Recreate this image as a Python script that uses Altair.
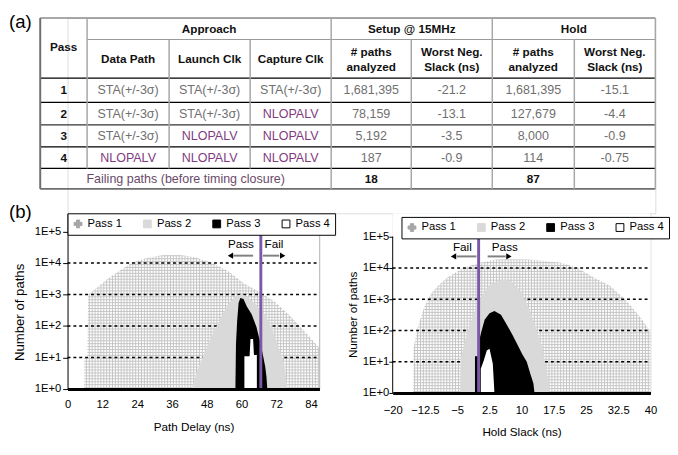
import altair as alt
import numpy as np
import pandas as pd

FONT = "Liberation Sans"

# ---------------- (a) table values ----------------
PASS_IDS = ["1", "2", "3", "4"]
DATA_PATH = ["STA(+/-3σ)", "STA(+/-3σ)", "STA(+/-3σ)", "NLOPALV"]
LAUNCH_CLK = ["STA(+/-3σ)", "STA(+/-3σ)", "NLOPALV", "NLOPALV"]
CAPTURE_CLK = ["STA(+/-3σ)", "NLOPALV", "NLOPALV", "NLOPALV"]
SETUP_PATHS = ["1,681,395", "78,159", "5,192", "187"]
SETUP_WNS = ["-21.2", "-13.1", "-3.5", "-0.9"]
HOLD_PATHS = ["1,681,395", "127,679", "8,000", "114"]
HOLD_WNS = ["-15.1", "-4.4", "-0.9", "-0.75"]
FAILING_LABEL = "Failing paths (before timing closure)"
FAILING_SETUP = "18"
FAILING_HOLD = "87"

# ---------------- (b) histogram values ----------------
SERIES = ["Pass 1", "Pass 2", "Pass 3", "Pass 4"]

# Setup: path delay (ns) vs number of paths
SETUP_P1_X = [5.7, 5.7, 6.8, 7.1, 10, 14, 17, 22, 27, 33, 39, 44, 50, 55.7, 61, 66.9, 71.4, 77, 82.6, 86.9]
SETUP_P1_Y = [1, 10, 10, 1000, 1600, 3200, 5000, 10000, 14000, 17800, 17800, 15000, 10000, 5200, 2200, 1100, 600, 200, 56, 20]
SETUP_P2_X = [42.8, 44.4, 46.7, 48.9, 51.2, 53.4, 55.7, 57.9, 59.6, 61.8, 64.6, 68.0, 70.3, 72.5, 74.7, 75.9]
SETUP_P2_Y = [1, 3.2, 11, 31, 90, 230, 540, 850, 1000, 850, 540, 230, 90, 25, 6.6, 1]
SETUP_P3_X = [57.9, 58.1, 58.5, 59.0, 59.6, 60.7, 61.8, 63.5, 65.2, 66.0, 66.6, 67.5, 68.2, 68.6, 68.9]
SETUP_P3_Y = [1, 28, 145, 540, 770, 720, 420, 235, 91, 45, 28, 10.7, 5, 2.5, 1]
SETUP_P4_X = [61.0, 61.0, 62.8, 63.1, 64.0, 64.3, 65.3, 65.3]
SETUP_P4_Y = [1, 11, 11, 39, 39, 12, 12, 1]
SETUP_LIMIT = 66.67  # 15 MHz period

# Hold: hold slack (ns) vs number of paths
HOLD_P1_X = [-15.2, -15.2, -14.1, -12.6, -11.1, -9.2, -7.3, -3.5, 0.3, 4.1, 7.8, 11.6, 15.4, 19.2, 23.0, 26.8, 30.5, 34.3, 38.1, 39.6, 40]
HOLD_P1_Y = [1, 25, 140, 580, 1500, 2900, 5000, 10200, 14800, 18600, 19000, 18600, 16600, 14800, 10200, 5000, 2750, 930, 220, 107, 100]
HOLD_P2_X = [-4.3, -4.1, -3.5, -2.75, -2.0, -1.25, 0.27, 2.54, 4.8, 5.95, 7.8, 10.1, 11.6, 13.1, 14.6, 15.4, 16.2, 16.4]
HOLD_P2_Y = [1, 14, 29, 76, 155, 316, 1050, 2750, 3900, 4200, 3600, 1500, 575, 155, 36, 11, 2.6, 1]
HOLD_P3_X = [-0.85, -0.85, -0.1, 0.3, 0.66, 1.4, 2.54, 3.68, 5.2, 6.33, 7.8, 9.35, 10.1, 11.2, 12.0, 12.76, 13.0]
HOLD_P3_Y = [1, 15, 15, 60, 95, 220, 355, 420, 316, 174, 76, 29, 18, 10, 4.3, 2, 1]
HOLD_P4_X = [0.5, 0.5, 1.2, 1.9, 2.54, 3.3, 3.68]
HOLD_P4_Y = [1, 6, 11, 23, 26, 8.6, 1]
HOLD_LIMIT = 0.0

GRID_LEVELS = [10, 100, 1000, 10000]
Y_TICKS = [1, 10, 100, 1000, 10000, 100000]
SETUP_X_TICKS = [0, 12, 24, 36, 48, 60, 72, 84]
HOLD_X_TICKS = [-20, -12.5, -5, 2.5, 10, 17.5, 25, 32.5, 40]

# ---------------- styles ----------------
HATCH = "#c4c4c4"
P2_COLOR = "#d9d9d9"
PURPLE = "#7a5aa8"
STA_C = "#6f6f6f"
NLO_C = "#7f3b7f"
NUM_C = "#6f6f6f"

# ---------------- table layout ----------------
COL_EDGES = [0, 48, 132, 215, 298, 380, 463, 547, 630]
ROW_EDGES = [0, 22, 61.5, 86.5, 109.5, 132, 154, 175]


def cc(i):
    return (COL_EDGES[i] + COL_EDGES[i + 1]) / 2


def span(i, j):
    return (COL_EDGES[i] + COL_EDGES[j]) / 2


ROW_C = [(ROW_EDGES[k] + ROW_EDGES[k + 1]) / 2 for k in range(2, 7)]

bold = [
    ("Pass", cc(0), 30, "#111111"),
    ("Approach", span(1, 4), 11, "#111111"),
    ("Setup @ 15MHz", span(4, 6), 11, "#111111"),
    ("Hold", span(6, 8), 11, "#111111"),
    ("Data Path", cc(1), 41.7, "#111111"),
    ("Launch Clk", cc(2), 41.7, "#111111"),
    ("Capture Clk", cc(3), 41.7, "#111111"),
    ("# paths", cc(4), 35.3, "#111111"),
    ("analyzed", cc(4), 50.3, "#111111"),
    ("Worst Neg.", cc(5), 35.3, "#111111"),
    ("Slack (ns)", cc(5), 50.3, "#111111"),
    ("# paths", cc(6), 35.3, "#111111"),
    ("analyzed", cc(6), 50.3, "#111111"),
    ("Worst Neg.", cc(7), 35.3, "#111111"),
    ("Slack (ns)", cc(7), 50.3, "#111111"),
    (FAILING_SETUP, cc(4), ROW_C[4], "#111111"),
    (FAILING_HOLD, cc(6), ROW_C[4], "#111111"),
]
for k, p in enumerate(PASS_IDS):
    bold.append((p, cc(0), ROW_C[k], "#111111"))

normal = [(FAILING_LABEL, span(0, 4), ROW_C[4], "#6a4a6a")]
for k in range(4):
    for col, vals in ((1, DATA_PATH), (2, LAUNCH_CLK), (3, CAPTURE_CLK)):
        s = vals[k]
        normal.append((s, cc(col), ROW_C[k], NLO_C if s == "NLOPALV" else STA_C))
    for col, vals in ((4, SETUP_PATHS), (5, SETUP_WNS), (6, HOLD_PATHS), (7, HOLD_WNS)):
        normal.append((vals[k], cc(col), ROW_C[k], NUM_C))

bold_df = pd.DataFrame(bold, columns=["t", "x", "y", "c"])
norm_df = pd.DataFrame(normal, columns=["t", "x", "y", "c"])

lines = []
h_specs = [
    (ROW_EDGES[0], 0, 630, "#8c8c8c", 1.5),
    (ROW_EDGES[1], 48, 630, "#9a9a9a", 1.2),
    (ROW_EDGES[2], 0, 630, "#000000", 1.4),
    (ROW_EDGES[3], 0, 630, "#000000", 1.3),
    (ROW_EDGES[4], 0, 630, "#333333", 1.3),
    (ROW_EDGES[5], 0, 630, "#000000", 1.3),
    (ROW_EDGES[6], 0, 630, "#000000", 1.3),
    (ROW_EDGES[7], 0, 630, "#6e6e6e", 2.0),
]
for y, a, b, c, w in h_specs:
    lines.append(dict(x=a, x2=b, y=y, y2=y, c=c, w=w))
v_specs = [
    (0, ROW_EDGES[0], ROW_EDGES[7], "#6e6e6e", 2.0),
    (48, ROW_EDGES[0], ROW_EDGES[6], "#a6a6a6", 1.5),
    (132, ROW_EDGES[1], ROW_EDGES[6], "#a6a6a6", 1.5),
    (215, ROW_EDGES[1], ROW_EDGES[6], "#a6a6a6", 1.5),
    (298, ROW_EDGES[0], ROW_EDGES[7], "#a6a6a6", 1.5),
    (380, ROW_EDGES[1], ROW_EDGES[7], "#a6a6a6", 1.5),
    (463, ROW_EDGES[0], ROW_EDGES[7], "#a6a6a6", 1.5),
    (547, ROW_EDGES[1], ROW_EDGES[7], "#a6a6a6", 1.5),
    (630, ROW_EDGES[0], ROW_EDGES[7], "#a6a6a6", 1.5),
]
for x, a, b, c, w in v_specs:
    lines.append(dict(x=x, x2=x, y=a, y2=b, c=c, w=w))
lines_df = pd.DataFrame(lines)

TX = alt.X("x:Q", scale=alt.Scale(domain=[28, 630], nice=False, zero=False), axis=None)
TY = alt.Y("y:Q", scale=alt.Scale(domain=[0, 200], nice=False, zero=False, reverse=True), axis=None)

t_lines = alt.Chart(lines_df).mark_rule().encode(
    x=TX, x2="x2:Q", y=TY, y2="y2:Q",
    color=alt.Color("c:N", scale=None),
    strokeWidth=alt.StrokeWidth("w:Q", scale=None),
)
t_bold = alt.Chart(bold_df).mark_text(font=FONT, fontSize=12, fontWeight="bold").encode(
    x=TX, y=TY, text="t:N", color=alt.Color("c:N", scale=None))
t_norm = alt.Chart(norm_df).mark_text(font=FONT, fontSize=12.8).encode(
    x=TX, y=TY, text="t:N", color=alt.Color("c:N", scale=None))
labels_df = pd.DataFrame({"t": ["(a)", "(b)"], "x": [-32, -32], "y": [4.5, 199]})
t_labels = alt.Chart(labels_df).mark_text(font=FONT, fontSize=19, align="left", color="black").encode(
    x=TX, y=TY, text="t:N")

table = alt.layer(t_lines, t_norm, t_bold, t_labels).properties(width=602, height=200)


# ---------------- histogram panels ----------------
def df_xy(xs, ys, base):
    return pd.DataFrame({"x": xs, "y": ys, "b": base})


def panel(x_dom, y_top, width, height, decade_px, hatch_dx, p1, p2, p3, p4,
          limit, limit_top, x_axis, y_axis, leg_x, leg_y, notes, note_y,
          shafts, heads, arrow_y, frame):
    X = alt.X("x:Q", scale=alt.Scale(domain=x_dom, nice=False, zero=False), axis=x_axis)
    Y = alt.Y("y:Q", scale=alt.Scale(type="log", domain=[1, y_top], nice=False), axis=y_axis)

    # hatch texture for Pass 1 (grid of thin rules, masked above the Pass 1 curve)
    vx = np.arange(x_dom[0] + hatch_dx / 2, x_dom[1], hatch_dx)
    hatch_v = pd.DataFrame({"x": vx, "y": 1.0, "y2": y_top})
    dy = 3.0 / decade_px
    hy = 10 ** np.arange(dy / 2, np.log10(y_top), dy)
    hatch_h = pd.DataFrame({"y": hy, "x": x_dom[0], "x2": x_dom[1]})
    l_hv = alt.Chart(hatch_v).mark_rule(color=HATCH, strokeWidth=1).encode(x=X, y=Y, y2="y2:Q")
    l_hh = alt.Chart(hatch_h).mark_rule(color=HATCH, strokeWidth=1).encode(y=Y, x=X, x2="x2:Q")

    mx = [x_dom[0]] + list(p1[0])
    my = [1] + list(p1[1])
    if p1[0][-1] < x_dom[1]:
        mx += [p1[0][-1], x_dom[1]]
        my += [1, 1]
    l_mask = alt.Chart(df_xy(mx, my, y_top)).mark_area(color="white", opacity=1).encode(
        x=X, y=Y, y2="b:Q")

    grid_df = pd.DataFrame({"y": GRID_LEVELS, "x": x_dom[0], "x2": x_dom[1]})
    l_grid = alt.Chart(grid_df).mark_rule(color="black", strokeWidth=1.5, strokeDash=[3, 3]).encode(
        y=Y, x=X, x2="x2:Q")

    def area(p, color):
        return alt.Chart(df_xy(p[0], p[1], 1.0)).mark_area(color=color, opacity=1).encode(
            x=X, y=Y, y2="b:Q")

    l_p2 = area(p2, P2_COLOR)
    l_p3 = area(p3, "black")
    l_p4 = area(p4, "white")

    lim_df = pd.DataFrame({"x": [limit], "y": [1.0], "y2": [limit_top]})
    l_lim = alt.Chart(lim_df).mark_rule(color=PURPLE, strokeWidth=3).encode(x=X, y=Y, y2="y2:Q")

    sh_df = pd.DataFrame({"x": [s[0] for s in shafts], "x2": [s[1] for s in shafts], "y": arrow_y})
    l_sh = alt.Chart(sh_df).mark_rule(color="#808080", strokeWidth=2).encode(x=X, x2="x2:Q", y=Y)
    hd_df = pd.DataFrame({"x": [h[0] for h in heads], "s": [h[1] for h in heads], "y": arrow_y})
    l_hd = alt.Chart(hd_df).mark_point(filled=True, color="black", size=40, opacity=1).encode(
        x=X, y=Y, shape=alt.Shape("s:N", scale=None))
    nt_df = pd.DataFrame({"t": [n[0] for n in notes], "x": [n[1] for n in notes], "y": note_y})
    l_nt = alt.Chart(nt_df).mark_text(font=FONT, fontSize=12, color="black").encode(x=X, y=Y, text="t:N")

    fr_df = pd.DataFrame(frame, columns=["x", "y", "y2", "c"])
    l_fr = alt.Chart(fr_df).mark_rule(strokeWidth=1).encode(
        x=X, y=Y, y2="y2:Q", color=alt.Color("c:N", scale=None))

    leg = alt.Legend(orient="none", legendX=leg_x, legendY=leg_y, direction="horizontal",
                     strokeColor="black", fillColor="white", padding=5, columnPadding=19,
                     labelFontSize=11.5, labelFont=FONT, labelColor="black", symbolSize=64,
                     labelOffset=4, symbolStrokeWidth=1, zindex=1)
    lg_df = pd.DataFrame({"series": SERIES, "x": x_dom[1] + 1000, "y": 10.0})
    l_lg = alt.Chart(lg_df).mark_point(clip=True, filled=True, opacity=1).encode(
        x=X, y=Y,
        fill=alt.Fill("series:N", title=None, legend=leg,
                      scale=alt.Scale(domain=SERIES, range=["#a6a6a6", P2_COLOR, "#000000", "#ffffff"])),
        stroke=alt.Stroke("series:N", title=None, legend=leg,
                          scale=alt.Scale(domain=SERIES, range=["#a6a6a6", P2_COLOR, "#000000", "#000000"])),
        shape=alt.Shape("series:N", title=None, legend=leg,
                        scale=alt.Scale(domain=SERIES, range=["cross", "square", "square", "square"])),
    )
    return alt.layer(l_hv, l_hh, l_mask, l_grid, l_p2, l_p3, l_p4, l_lim, l_sh, l_hd, l_nt,
                     l_fr, l_lg).properties(width=width, height=height)


LABEL_EXPR = "'1E+' + round(log(datum.value) / LN10)"

left_x_axis = alt.Axis(values=SETUP_X_TICKS, format="d", title="Path Delay (ns)", grid=False,
                       ticks=False, tickSize=0, domainColor="black", domainWidth=3,
                       labelPadding=9.5, labelFontSize=11.5, labelFont=FONT, labelColor="black",
                       labelFlush=False, labelOverlap=False,
                       titleFontSize=12, titleFont=FONT, titleFontWeight="normal", titleColor="black",
                       titleY=38.7, titleBaseline="middle", zindex=1)
left_y_axis = alt.Axis(values=Y_TICKS, labelExpr=LABEL_EXPR, title="Number of paths", grid=False,
                       tickSize=5, tickColor="black", domainColor="black", domainWidth=1,
                       labelPadding=2, labelFontSize=11.5, labelFont=FONT, labelColor="black",
                       labelOverlap=False,
                       titleFontSize=13.5, titleFont=FONT, titleFontWeight="normal", titleColor="black",
                       titleX=-49, titleY=101, titleAngle=270, titleBaseline="middle", zindex=1)
right_x_axis = alt.Axis(values=HOLD_X_TICKS, format=".1~f", title="Hold Slack (ns)", grid=False,
                        ticks=False, tickSize=0, domainColor="black", domainWidth=3,
                        labelPadding=12.5, labelFontSize=11.5, labelFont=FONT, labelColor="black",
                        labelFlush=False, labelOverlap=False,
                        titleFontSize=12, titleFont=FONT, titleFontWeight="normal", titleColor="black",
                        titleY=39.7, titleBaseline="middle", zindex=1)
right_y_axis = alt.Axis(values=Y_TICKS, labelExpr=LABEL_EXPR, title="Number of paths", grid=False,
                        domain=False, tickSize=4, tickColor="black",
                        labelPadding=0, labelFontSize=11.5, labelFont=FONT, labelColor="black",
                        labelOverlap=False,
                        titleFontSize=12, titleFont=FONT, titleFontWeight="normal", titleColor="black",
                        titleX=-40.7, titleY=103.5, titleAngle=270, titleBaseline="middle", zindex=1)

LEFT_TOP = 10 ** (180 / 32.3)
RIGHT_TOP = 10 ** (184 / 32.0)

left = panel(
    x_dom=[0, 86.9], y_top=LEFT_TOP, width=258, height=180, decade_px=32.3, hatch_dx=1.0,
    p1=(SETUP_P1_X, SETUP_P1_Y), p2=(SETUP_P2_X, SETUP_P2_Y), p3=(SETUP_P3_X, SETUP_P3_Y),
    p4=(SETUP_P4_X, SETUP_P4_Y), limit=SETUP_LIMIT, limit_top=10 ** 4.9,
    x_axis=left_x_axis, y_axis=left_y_axis, leg_x=0, leg_y=0,
    notes=[("Pass", 59.8), ("Fail", 71.2)], note_y=10 ** 4.59,
    shafts=[(57.2, 64.0), (67.4, 73.0)],
    heads=[(56.2, "triangle-left"), (74.2, "triangle-right")], arrow_y=10 ** 4.23,
    frame=[(86.9, 1.0, 10 ** 4.9, "#bfbfbf")],
)
right = panel(
    x_dom=[-20, 40], y_top=RIGHT_TOP, width=264, height=184, decade_px=32.0, hatch_dx=0.68,
    p1=(HOLD_P1_X, HOLD_P1_Y), p2=(HOLD_P2_X, HOLD_P2_Y), p3=(HOLD_P3_X, HOLD_P3_Y),
    p4=(HOLD_P4_X, HOLD_P4_Y), limit=HOLD_LIMIT, limit_top=10 ** 5.06,
    x_axis=right_x_axis, y_axis=right_y_axis, leg_x=9, leg_y=3.7,
    notes=[("Fail", -3.8), ("Pass", 6.1)], note_y=10 ** 4.68,
    shafts=[(-5.1, -0.5), (2.1, 6.3)],
    heads=[(-5.85, "triangle-left"), (7.05, "triangle-right")], arrow_y=10 ** 4.37,
    frame=[(-20, 1.0, 100000.0, "#000000")],
)

row = alt.hconcat(left, right, spacing=75, bounds="flush").resolve_scale(
    x="independent", y="independent", fill="independent", stroke="independent", shape="independent")

chart = alt.vconcat(table, row, spacing=0, bounds="flush").resolve_scale(
    x="independent", y="independent", fill="independent", stroke="independent", shape="independent"
).properties(padding=0).configure_view(strokeWidth=0).configure(font=FONT)

chart.save("out.html", embed_options={"renderer": "svg", "actions": False})
